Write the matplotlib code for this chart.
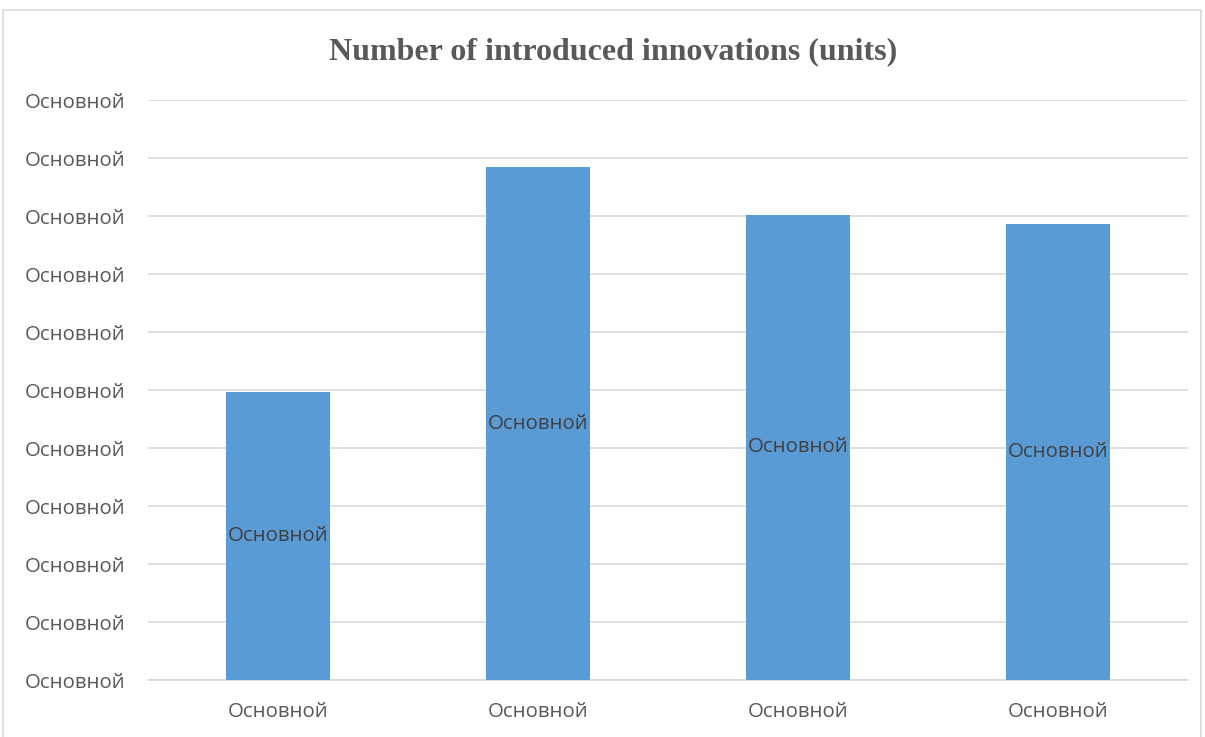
import matplotlib
matplotlib.use("Agg")
import matplotlib.pyplot as plt
from matplotlib.patches import Rectangle

categories = ["Основной", "Основной", "Основной", "Основной"]
values = [49.7, 88.4, 80.2, 78.6]
yticks = [0, 10, 20, 30, 40, 50, 60, 70, 80, 90, 100]
ytick_labels = ["Основной"] * len(yticks)
bar_labels = ["Основной"] * len(values)
title = "Number of introduced innovations (units)"

fig = plt.figure(figsize=(12.05, 7.37), dpi=100)
fig.patch.set_facecolor("white")
# chart frame
fig.add_artist(Rectangle((3/1205, -0.01), 1198/1205, 1 - 10/737 + 0.01, transform=fig.transFigure,
                         fill=False, edgecolor="#d9d9d9", linewidth=1.2))

ax = fig.add_axes([148/1205, 1 - 680/737, 1040/1205, 580/737])
x = range(len(values))
bars = ax.bar(x, values, width=0.4, color="#5b9bd5", zorder=3)
ax.set_xlim(-0.5, len(values) - 0.5)
ax.set_ylim(0, 100)
ax.set_yticks(yticks)
ax.set_yticklabels(ytick_labels)
ax.set_xticks(list(x))
ax.set_xticklabels(categories)
ax.grid(axis="y", color="#d9d9d9", linewidth=1.2, zorder=0)
for s in ["top", "right", "left"]:
    ax.spines[s].set_visible(False)
ax.spines["bottom"].set_color("#d9d9d9")
ax.spines["bottom"].set_linewidth(1.2)
ax.tick_params(axis="both", length=0, labelsize=14.7, labelcolor="#595959")
ax.tick_params(axis="y", pad=16.5)
ax.tick_params(axis="x", pad=16)
for lbl in ax.get_xticklabels() + ax.get_yticklabels():
    lbl.set_family("Open Sans")
for b, lab in zip(bars, bar_labels):
    ax.text(b.get_x() + b.get_width() / 2, b.get_height() / 2, lab, ha="center", va="center",
            fontsize=14.7, color="#404040", family="Open Sans", zorder=4)

fig.text(613/1205, 1 - 52/737, title, ha="center", va="center", fontsize=23,
         fontweight="bold", family="Liberation Serif", color="#595959")

fig.savefig("out.png", dpi=100)
